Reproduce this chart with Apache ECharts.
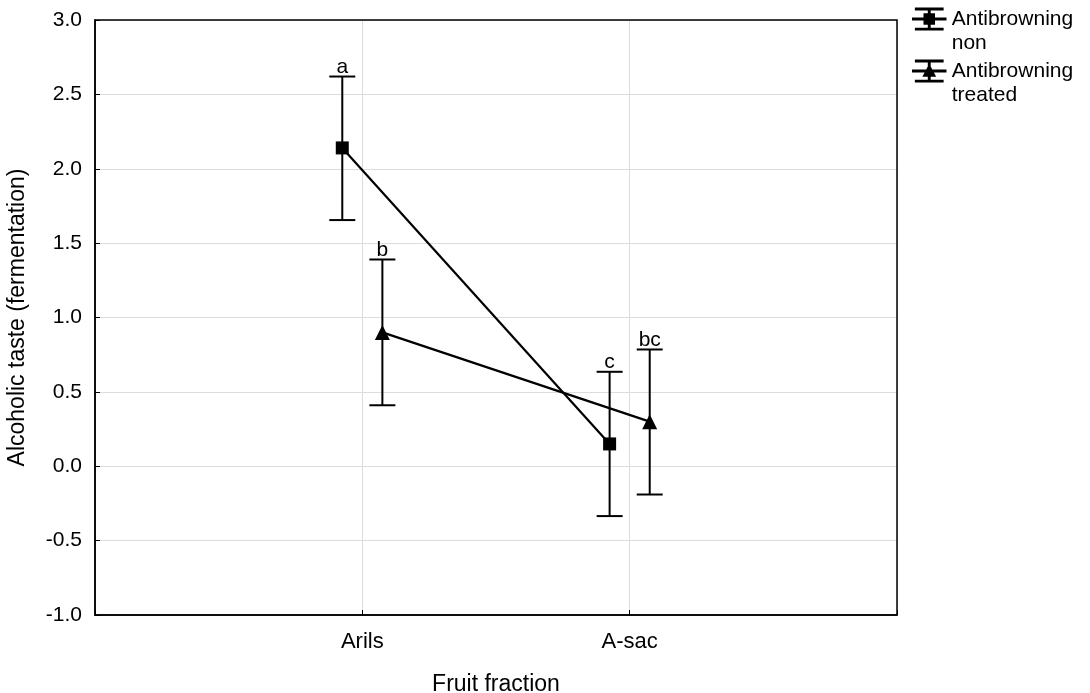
<!DOCTYPE html>
<html>
<head>
<meta charset="utf-8">
<script src="https://cdn.jsdelivr.net/npm/echarts@6/dist/echarts.min.js"></script>
<style>
  html, body { margin: 0; padding: 0; background: #fff; }
  #chart { width: 1090px; height: 693px; }
</style>
</head>
<body>
<div id="chart"></div>
<script>
// data
var categories = ['Arils', 'A-sac'];
var seriesNames = ['Antibrowning\nnon', 'Antibrowning\ntreated'];
var meanNon = [2.14, 0.15];
var lowNon = [1.655, -0.335];
var highNon = [2.62, 0.635];
var meanTreated = [0.90, 0.30];
var lowTreated = [0.41, -0.19];
var highTreated = [1.39, 0.785];
var lettersNon = ['a', 'c'];
var lettersTreated = ['b', 'bc'];

var FONT = 'Liberation Sans, Arial, sans-serif';
var offset = 0.075; // horizontal dodge of the two groups

function points(means, shift) {
  return means.map(function (v, i) { return [i + 1 + shift, v]; });
}
function bars(lows, highs, letters, shift) {
  return lows.map(function (l, i) { return [i + 1 + shift, l, highs[i], letters[i]]; });
}

var errNon = bars(lowNon, highNon, lettersNon, -offset);
var errTreated = bars(lowTreated, highTreated, lettersTreated, offset);

function renderErr(params, api) {
  var x = api.value(0);
  var lo = api.coord([x, api.value(1)]);
  var hi = api.coord([x, api.value(2)]);
  var cap = 13;
  var style = { stroke: '#000', lineWidth: 2 };
  var src = params.seriesIndex === 2 ? errNon : errTreated;
  return {
    type: 'group',
    children: [
      { type: 'line', shape: { x1: lo[0], y1: lo[1], x2: hi[0], y2: hi[1] }, style: style },
      { type: 'line', shape: { x1: lo[0] - cap, y1: lo[1], x2: lo[0] + cap, y2: lo[1] }, style: style },
      { type: 'line', shape: { x1: hi[0] - cap, y1: hi[1], x2: hi[0] + cap, y2: hi[1] }, style: style },
      { type: 'text', x: hi[0], y: hi[1] + 1,
        style: { text: src[params.dataIndex][3], fill: '#000', font: '21px ' + FONT,
                 align: 'center', verticalAlign: 'bottom' } }
    ]
  };
}

var iconNon = 'path://M2,0H22V2H2Z M2,14H22V16H2Z M0,7H24V9H0Z M11,0H13V16H11Z M8,4H16V12H8Z';
var iconTri = 'path://M2,0H22V2H2Z M2,14H22V16H2Z M0,7H24V9H0Z M11,0H13V16H11Z M12,3L16.8,12H7.2Z';

var chart = echarts.init(document.getElementById('chart'));
var option = {
  animation: false,
  backgroundColor: '#fff',
  grid: { left: 95, right: 193, top: 20, bottom: 78, containLabel: false, outerBoundsMode: 'none' },
  legend: {
    orient: 'vertical',
    left: 912,
    top: -17,
    padding: 0,
    itemWidth: 35,
    itemHeight: 23,
    itemGap: -20,
    // leading blank line keeps the icon level with the first text line
    formatter: function (name) { return '\n' + name; },
    textStyle: { fontFamily: FONT, fontSize: 21, color: '#000', lineHeight: 24 },
    data: [
      { name: seriesNames[0], icon: iconNon },
      { name: seriesNames[1], icon: iconTri }
    ]
  },
  xAxis: {
    type: 'value',
    min: 0, max: 3, interval: 1,
    name: 'Fruit fraction',
    nameLocation: 'middle',
    nameGap: 58,
    nameTextStyle: { fontFamily: FONT, fontSize: 23, color: '#000' },
    axisLine: { show: true, onZero: false, lineStyle: { color: '#000', width: 1.5 } },
    axisTick: { show: true, inside: true, length: 5, lineStyle: { color: '#000' } },
    axisLabel: {
      fontFamily: FONT, fontSize: 22, color: '#000', margin: 16,
      formatter: function (v) { return categories[v - 1] || ''; }
    },
    splitLine: { show: true, lineStyle: { color: '#dcdcdc', width: 1 } }
  },
  yAxis: {
    type: 'value',
    min: -1, max: 3, interval: 0.5,
    name: 'Alcoholic taste (fermentation)',
    nameLocation: 'middle',
    nameGap: 66,
    nameTextStyle: { fontFamily: FONT, fontSize: 23, color: '#000' },
    axisLine: { show: true, onZero: false, lineStyle: { color: '#000', width: 1.5 } },
    axisTick: { show: true, inside: true, length: 5, lineStyle: { color: '#000' } },
    axisLabel: {
      fontFamily: FONT, fontSize: 21, color: '#000', margin: 13,
      formatter: function (v) { return v.toFixed(1); }
    },
    splitLine: { show: true, lineStyle: { color: '#dcdcdc', width: 1 } }
  },
  series: [
    {
      name: seriesNames[0], type: 'line', data: points(meanNon, -offset),
      symbol: 'rect', symbolSize: 13, z: 5,
      lineStyle: { color: '#000', width: 2.2 }, itemStyle: { color: '#000' }
    },
    {
      name: seriesNames[1], type: 'line', data: points(meanTreated, offset),
      symbol: 'triangle', symbolSize: 15, z: 5,
      lineStyle: { color: '#000', width: 2.2 }, itemStyle: { color: '#000' }
    },
    {
      type: 'custom', renderItem: renderErr, z: 4,
      data: errNon,
      encode: { x: 0, y: [1, 2] }
    },
    {
      type: 'custom', renderItem: renderErr, z: 4,
      data: errTreated,
      encode: { x: 0, y: [1, 2] }
    }
  ],
  graphic: [
    { type: 'rect', shape: { x: 95, y: 20, width: 802, height: 595 },
      style: { fill: 'none', stroke: '#000', lineWidth: 1.5 }, z: 10, silent: true }
  ]
};
chart.setOption(option);
</script>
</body>
</html>
